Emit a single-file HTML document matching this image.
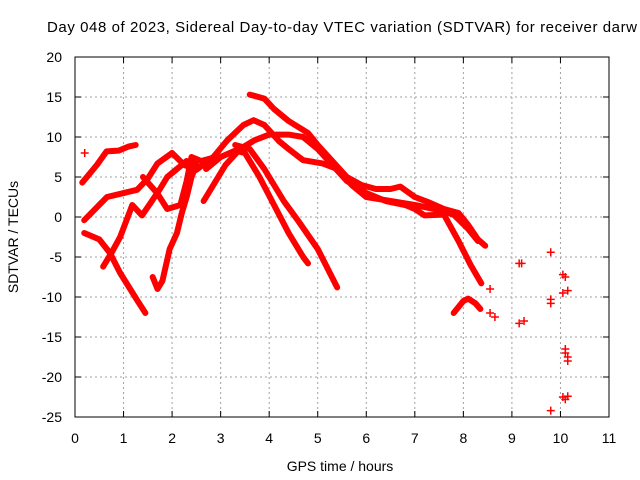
<!DOCTYPE html>
<html><head><meta charset="utf-8"><style>
html,body{margin:0;padding:0;background:#fff;}
svg{display:block;font-family:"Liberation Sans",sans-serif;}
</style></head><body>
<svg id="chart" width="640" height="480" viewBox="0 0 640 480">
<text x="47" y="32" font-size="15" textLength="590" lengthAdjust="spacing" fill="#000">Day 048 of 2023, Sidereal Day-to-day VTEC variation (SDTVAR) for receiver darw</text>
<g id="grid"></g>
<g id="axes"></g>
<g id="series"></g>
<text x="340" y="471" font-size="14" text-anchor="middle">GPS time / hours</text>
<text transform="translate(18,237) rotate(-90)" font-size="14" text-anchor="middle">SDTVAR / TECUs</text>
</svg>
<script>
const xTicks=[0,1,2,3,4,5,6,7,8,9,10,11];
const yTicks=[20,15,10,5,0,-5,-10,-15,-20,-25];
const trackA=[[0.19,-0.4],[0.66,2.5],[1.28,3.4],[1.5,4.8],[1.7,6.7],[2.0,8.0],[2.25,6.5],[2.5,5.9],[2.85,7.5],[3.14,9.6],[3.47,11.5],[3.68,12.1],[3.9,11.5],[4.2,9.5],[4.4,8.5],[4.7,7.1],[5.1,6.7],[5.4,6.0],[5.7,4.0],[6.0,2.5],[6.5,2.0],[7.0,1.5],[7.4,1.0],[7.8,0.3],[8.1,-1.5],[8.3,-3.0]];
const trackB=[[3.6,15.3],[3.9,14.8],[4.1,13.5],[4.4,12],[4.8,10.5],[5.0,9.0],[5.3,7.0],[5.6,5.0],[5.9,4.0],[6.2,3.5],[6.5,3.5],[6.7,3.8],[7.0,2.5],[7.3,1.8],[7.6,1.0],[7.9,0.5],[8.1,-1.0],[8.3,-2.8],[8.45,-3.6]];
const trackC=[[2.65,2.0],[2.9,4.5],[3.1,6.5],[3.4,8.5],[3.7,9.6],[4.0,10.3],[4.4,10.3],[4.7,10.0],[5.0,8.5],[5.3,6.5],[5.6,4.5],[6.0,3.0],[6.4,2.0],[6.8,1.5],[7.0,1.0],[7.2,0.2],[7.6,0.3],[7.9,-3],[8.15,-6],[8.37,-8.3]];
const trackD=[[2.7,6],[3.0,7.5],[3.3,8.3],[3.5,8.0],[3.8,5.0],[4.1,1.5],[4.4,-2],[4.7,-5.0],[4.8,-5.8]];
const trackE=[[3.3,9.0],[3.6,8.5],[3.9,6],[4.3,2],[4.6,-0.5],[5.0,-4],[5.4,-8.8]];
const trackF=[[0.19,-2],[0.5,-2.8],[0.72,-4.5],[0.93,-7],[1.28,-10.4],[1.45,-12]];
const trackG=[[0.58,-6.2],[0.75,-4.5],[0.93,-2.5],[1.18,1.5],[1.38,0.2],[1.55,1.7],[1.75,3.5],[1.9,5.0],[2.1,6.0],[2.3,7.0],[2.5,6.5]];
const trackH=[[1.4,5],[1.69,3],[1.9,1],[2.17,1.5],[2.3,4.5],[2.4,7.5],[2.6,7],[2.9,7.5]];
const trackI=[[1.6,-7.5],[1.7,-9],[1.8,-8],[1.95,-4],[2.1,-2],[2.2,0.5],[2.3,2.5],[2.4,5],[2.5,6.5]];
const trackJ=[[0.15,4.3],[0.45,6.5],[0.65,8.2],[0.9,8.3],[1.1,8.8],[1.25,9.0]];
const trackK=[[7.8,-12],[8.0,-10.5],[8.1,-10.2],[8.25,-10.8],[8.35,-11.5]];
const tracks=[trackA,trackB,trackC,trackD,trackE,trackF,trackG,trackH,trackI,trackJ,trackK];
const sparseX=[0.2,8.55,8.55,8.65,9.15,9.2,9.15,9.25,9.8,9.8,9.8,9.8,10.05,10.1,10.05,10.15,10.1,10.1,10.15,10.15,10.05,10.1,10.15];
const sparseY=[8,-9,-12,-12.5,-5.8,-5.8,-13.3,-13,-4.4,-10.3,-10.8,-24.2,-7.2,-7.5,-9.5,-9.2,-16.5,-17,-17.5,-18,-22.5,-22.8,-22.4];

const L=75,R=609,T=57,B=417;
const xs=h=>L+h*(R-L)/11;
const ys=v=>T+(20-v)*(B-T)/45;
const NS="http://www.w3.org/2000/svg";
function mk(tag,attrs,parent){const e=document.createElementNS(NS,tag);for(const k in attrs)e.setAttribute(k,attrs[k]);parent.appendChild(e);return e;}
const grid=document.getElementById('grid'),axes=document.getElementById('axes'),ser=document.getElementById('series');
xTicks.forEach(t=>{
  const x=xs(t);
  if(t>0&&t<11){const g=mk('line',{x1:x,x2:x,y1:T,y2:B,stroke:'#a0a0a0','stroke-dasharray':'2,3'},grid);
  
  }
  mk('line',{x1:x,x2:x,y1:B,y2:B-6,stroke:'#000'},axes);
  mk('line',{x1:x,x2:x,y1:T,y2:T+6,stroke:'#000'},axes);
  const lb=mk('text',{x:x,y:443,'font-size':14,'text-anchor':'middle'},axes);lb.textContent=t;
  
  
});
yTicks.forEach(t=>{
  const y=ys(t);
  if(t<20&&t>-25){const g=mk('line',{x1:L,x2:R,y1:y,y2:y,stroke:'#a0a0a0','stroke-dasharray':'2,3'},grid);
  
  }
  mk('line',{x1:L,x2:L+6,y1:y,y2:y,stroke:'#000'},axes);
  mk('line',{x1:R,x2:R-6,y1:y,y2:y,stroke:'#000'},axes);
  const lb=mk('text',{x:62,y:y+5,'font-size':14,'text-anchor':'end'},axes);lb.textContent=t;
  
  
});
const fr=mk('rect',{x:L,y:T,width:R-L,height:B-T,fill:'none',stroke:'#000'},axes);


tracks.forEach(tr=>{
  const p=mk('polyline',{points:tr.map(d=>xs(d[0])+','+ys(d[1])).join(' '),fill:'none',stroke:'#f00','stroke-width':6,'stroke-linejoin':'round','stroke-linecap':'round'},ser);
  
  
});
sparseX.forEach((h,i)=>{
  const x=xs(h),y=ys(sparseY[i]);
  const p=mk('path',{d:`M${x-4},${y}H${x+4}M${x},${y-4}V${y+4}`,stroke:'#f00','stroke-width':1.5},ser);
  
  
});
</script>
</body></html>
